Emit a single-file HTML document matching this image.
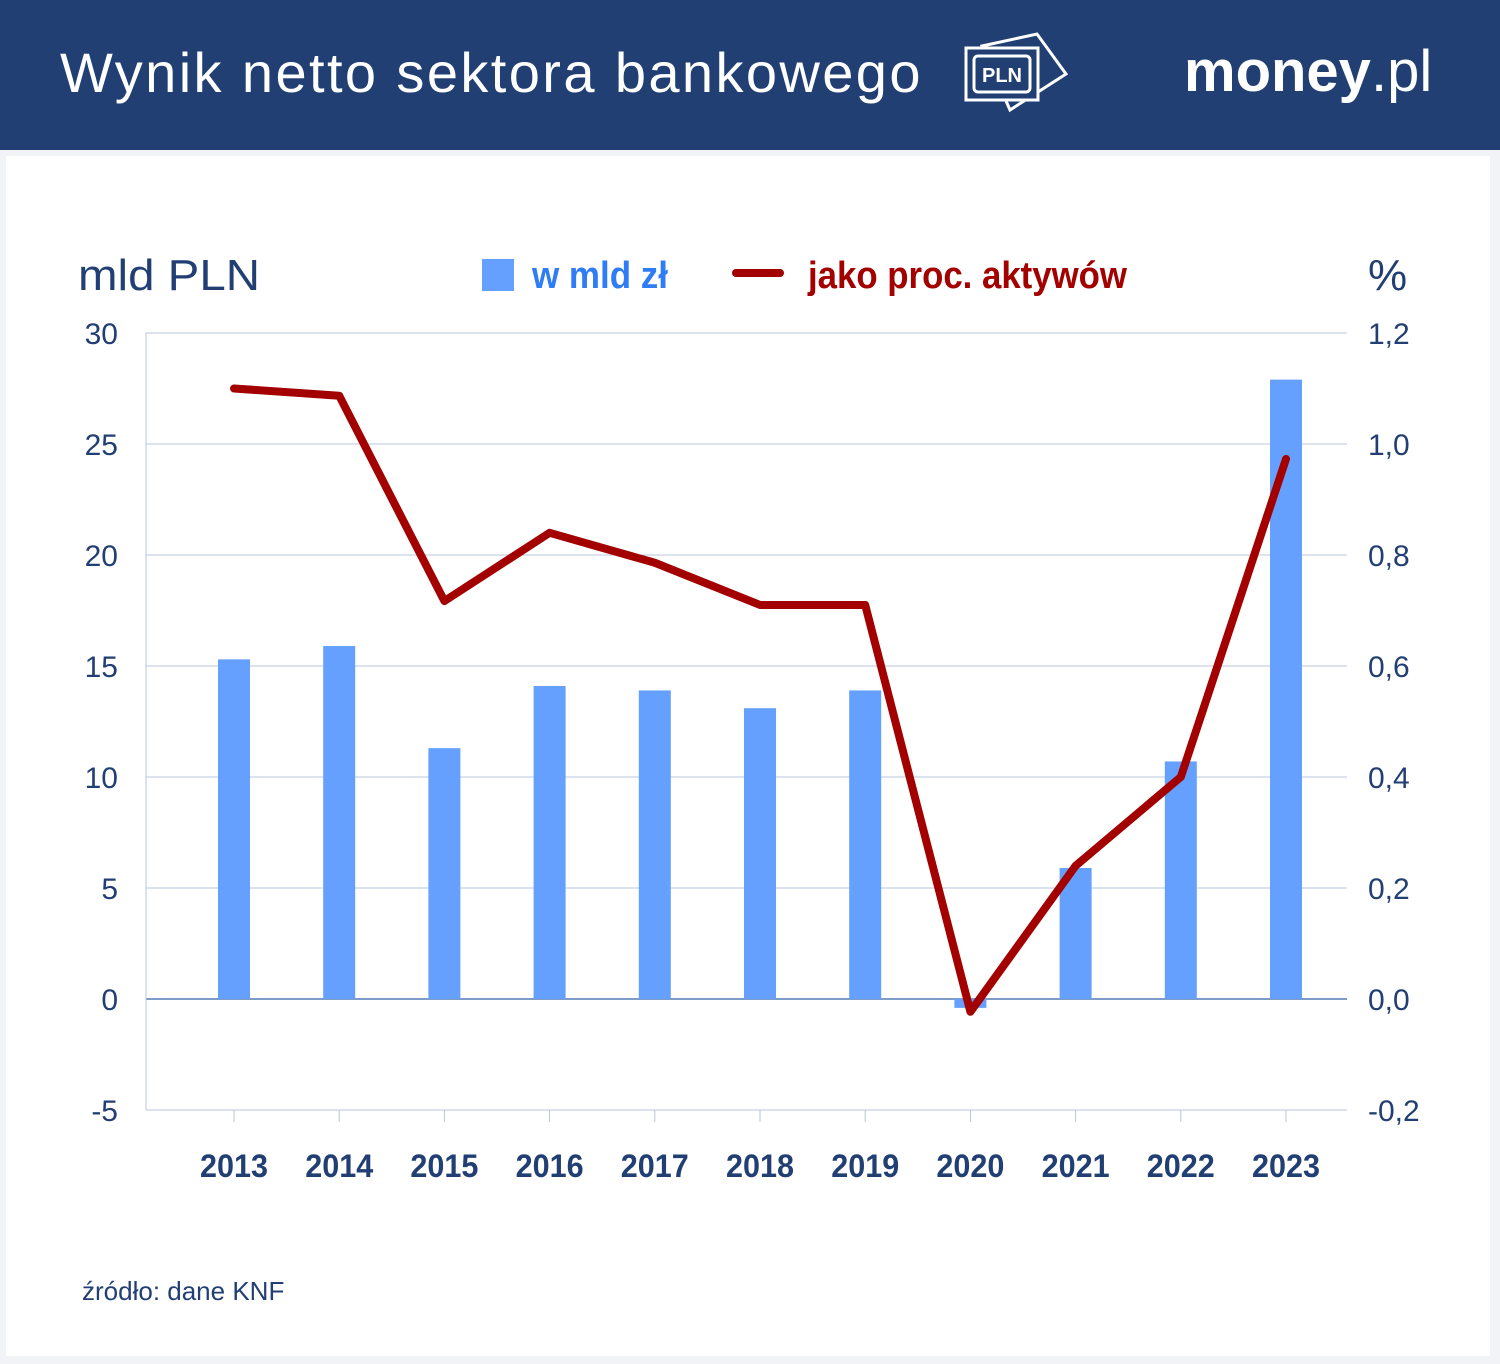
<!DOCTYPE html>
<html><head><meta charset="utf-8"><style>
body{margin:0;width:1500px;height:1364px;background:#f2f3f7;font-family:"Liberation Sans",sans-serif;overflow:hidden}
#hdr{position:absolute;left:0;top:0;width:1500px;height:150px;background:#223f73}
#panel{position:absolute;left:6px;top:156px;width:1484px;height:1200px;background:#fff}
</style></head><body>
<div id="hdr">
<div style="position:absolute;left:60px;top:40px;color:#fff;font-size:56px;letter-spacing:2.4px">Wynik netto sektora bankowego</div>
<svg style="position:absolute;left:962px;top:32px" width="110" height="82" viewBox="0 0 110 82">
<g fill="none" stroke="#fff" stroke-width="3"><polygon points="20,14 75,2 104,42 48,78"/><rect x="4" y="16" width="72" height="52" fill="#223f73"/><rect x="12" y="24" width="56" height="36" rx="4"/></g>
<text x="40" y="50" fill="#fff" font-size="20" font-weight="bold" text-anchor="middle" font-family="Liberation Sans">PLN</text></svg>
<div style="position:absolute;left:1184px;top:38px;color:#fff;font-size:58px;font-weight:bold">money<span style="font-weight:normal">.pl</span></div>
</div>
<div id="panel"></div>
<svg id="chart" width="1500" height="1364" style="position:absolute;left:0;top:0"></svg>
<div style="position:absolute;left:82px;top:1276px;color:#223f73;font-size:26px">źródło: dane KNF</div>
<script>
const years=["2013","2014","2015","2016","2017","2018","2019","2020","2021","2022","2023"];
const profitBn=[15.3,15.9,11.3,14.1,13.9,13.1,13.9,-0.4,5.9,10.7,27.9];
const pctAssets=[1.10,1.087,0.717,0.84,0.786,0.71,0.71,-0.023,0.24,0.40,0.973];
const leftTicks=[30,25,20,15,10,5,0,-5];
const rightTicks=["1,2","1,0","0,8","0,6","0,4","0,2","0,0","-0,2"];
const NS="http://www.w3.org/2000/svg",svg=document.getElementById('chart');
const yL=v=>999-v*22.2, yR=v=>999-v*555, xp=i=>234+i*105.2;
function el(t,a,txt){const e=document.createElementNS(NS,t);for(const k in a)e.setAttribute(k,a[k]);if(txt!==undefined)e.textContent=txt;svg.appendChild(e);return e;}
leftTicks.forEach((t,i)=>{const y=yL(t);
const g=el('line',{x1:146,x2:1347,y1:y,y2:y,stroke:t===0?'#7f9cc8':'#b8c6dc','stroke-width':t===0?2:1});

const a=el('text',{x:118,y:y+11,'text-anchor':'end','font-size':30,fill:'#223f73'},String(t));

const b=el('text',{x:1368,y:y+11,'font-size':30,fill:'#223f73'},rightTicks[i]);
});
const ax=el('line',{x1:146,x2:146,y1:333,y2:1110,stroke:'#b8c6dc'});
years.forEach((yr,i)=>{const x=xp(i);
const tk=el('line',{x1:x,x2:x,y1:1110,y2:1122,stroke:'#b8c6dc'});
const v=profitBn[i],y0=yL(0),y1=yL(v);
const r=el('rect',{x:x-16,y:Math.min(y0,y1),width:32,height:Math.abs(y1-y0),fill:'#66a0ff'});

const l=el('text',{x:x,y:1177,'text-anchor':'middle','font-size':32,'font-weight':'bold',fill:'#223f73',textLength:68,lengthAdjust:'spacingAndGlyphs'},yr);
});
const pl=el('polyline',{points:pctAssets.map((v,i)=>xp(i)+','+yR(v)).join(' '),fill:'none',stroke:'#a30000','stroke-width':8,'stroke-linejoin':'round','stroke-linecap':'round'});

const t1=el('text',{x:78,y:290,'font-size':44,fill:'#223f73',textLength:182,lengthAdjust:'spacingAndGlyphs'},'mld PLN');
const t2=el('text',{x:1368,y:290,'font-size':44,fill:'#223f73'},'%');
const s1=el('rect',{x:482,y:259,width:32,height:32,fill:'#66a0ff'});
const l1=el('text',{x:532,y:288,'font-size':38,'font-weight':'bold',fill:'#2e7cf6',textLength:136,lengthAdjust:'spacingAndGlyphs'},'w mld zł');
const s2=el('line',{x1:736,x2:780,y1:273,y2:273,stroke:'#a30000','stroke-width':8,'stroke-linecap':'round'});
const l2=el('text',{x:808,y:288,'font-size':38,'font-weight':'bold',fill:'#a30000',textLength:319,lengthAdjust:'spacingAndGlyphs'},'jako proc. aktywów');
</script>
</body></html>
